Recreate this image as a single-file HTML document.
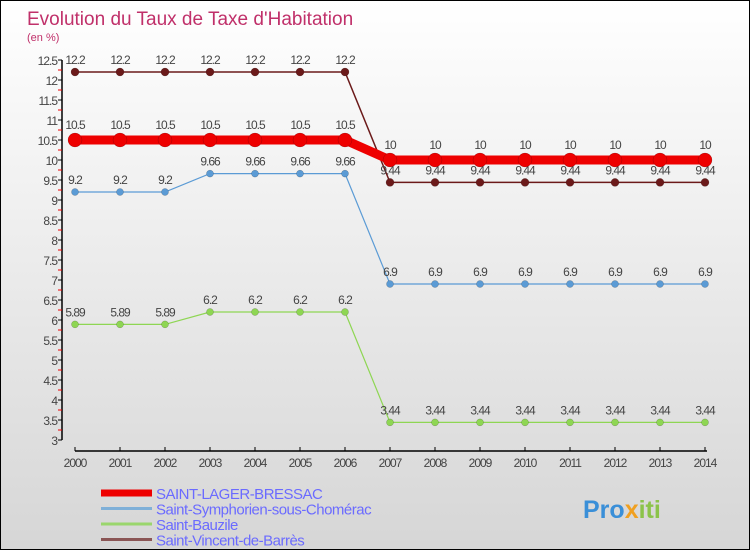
<!DOCTYPE html>
<html><head><meta charset="utf-8"><style>
body{margin:0}
#c{width:748px;height:548px;border:1px solid #000;background:linear-gradient(#fff,#d6d6d6);position:relative;overflow:hidden;font-family:"Liberation Sans","DejaVu Sans",sans-serif}
svg text{font-family:"Liberation Sans","DejaVu Sans",sans-serif}
</style></head><body>
<div id="c">
<svg id="s" width="748" height="548">
<text x="26" y="24" font-size="19" fill="#c0306a">Evolution du Taux de Taxe d'Habitation</text>
<text x="26" y="40" font-size="11" fill="#c0306a">(en %)</text>
</svg>
</div>
<script>
const years=[2000,2001,2002,2003,2004,2005,2006,2007,2008,2009,2010,2011,2012,2013,2014];
const yTicks=[3,3.5,4,4.5,5,5.5,6,6.5,7,7.5,8,8.5,9,9.5,10,10.5,11,11.5,12,12.5];
const seriesNames=["SAINT-LAGER-BRESSAC","Saint-Symphorien-sous-Chomérac","Saint-Bauzile","Saint-Vincent-de-Barrès"];
const sLager=[10.5,10.5,10.5,10.5,10.5,10.5,10.5,10,10,10,10,10,10,10,10];
const sSymph=[9.2,9.2,9.2,9.66,9.66,9.66,9.66,6.9,6.9,6.9,6.9,6.9,6.9,6.9,6.9];
const sBauz=[5.89,5.89,5.89,6.2,6.2,6.2,6.2,3.44,3.44,3.44,3.44,3.44,3.44,3.44,3.44];
const sVinc=[12.2,12.2,12.2,12.2,12.2,12.2,12.2,9.44,9.44,9.44,9.44,9.44,9.44,9.44,9.44];
const svg=document.getElementById('s');const NS='http://www.w3.org/2000/svg';
function X(i){return 74+i*45;}
function Y(v){return 159-(v-10)*40;}
function mk(t,a,p){const e=document.createElementNS(NS,t);for(const k in a)e.setAttribute(k,a[k]);(p||svg).appendChild(e);return e;}
let ya=mk('line',{x1:61,y1:Y(12.5),x2:61,y2:Y(3),stroke:'#000','stroke-width':1.5});


yTicks.forEach((v,k)=>{mk('line',{x1:57,y1:Y(v),x2:61,y2:Y(v),stroke:'#000'});
 if(k>0)mk('line',{x1:57,y1:Y(v)+10,x2:61,y2:Y(v)+10,stroke:'#e00'});
 let t=mk('text',{x:56,y:Y(v)+5,'font-size':12,'text-anchor':'end',fill:'#444','letter-spacing':'-1'});t.textContent=v;
 
 });
let xa=mk('line',{x1:74,y1:450,x2:706,y2:450,stroke:'#000','stroke-width':1.5});


years.forEach((y,i)=>{mk('line',{x1:X(i),y1:446,x2:X(i),y2:450,stroke:'#000'});
 let t=mk('text',{x:X(i),y:466,'font-size':12,'text-anchor':'middle',fill:'#444','letter-spacing':'-1'});t.textContent=y;
 
 });
const series=[[sVinc,'#6b1a1a',1.5,4,'series-saint-vincent'],[sSymph,'#5b9bd5',1.2,3.5,'series-saint-symphorien'],[sBauz,'#8ed653',1.2,3.5,'series-saint-bauzile'],[sLager,'#ee0000',9,7,'series-saint-lager']];
series.forEach(([d,c,w,r,n])=>{
 const g=mk('g',{});
 
 
 mk('polyline',{points:d.map((v,i)=>X(i)+','+Y(v)).join(' '),fill:'none',stroke:c,'stroke-width':w},g);
 d.forEach((v,i)=>{const p=mk('circle',{cx:X(i),cy:Y(v),r:r,fill:c,stroke:'rgba(0,0,0,0.3)','stroke-width':0.5},g);
  
  
  const t=mk('text',{x:X(i),y:Y(v)-(w>5?11:8),'font-size':12,'text-anchor':'middle',fill:'#444','letter-spacing':'-1'},g);t.textContent=v;
  
  });
});
const legC=['#ee0000','#7fb0d8','#9ad66d','#8a5555'],legW=[7,3,3,3];
seriesNames.forEach((n,i)=>{const y=492+i*15.5;
 const g=mk('g',{});
 
 
 mk('line',{x1:100,y1:y,x2:151,y2:y,stroke:legC[i],'stroke-width':legW[i]},g);
 const t=mk('text',{x:155,y:y+6,'font-size':15,fill:'#6b6bff','letter-spacing':'-0.5'},g);t.textContent=n;});
const lg=mk('text',{x:582,y:517,'font-size':25,'font-weight':'bold',fill:'#3a8fd8'});
lg.innerHTML='<tspan fill="#3a8fd8">Pro</tspan><tspan fill="#f0a020">x</tspan><tspan fill="#8bc34a">iti</tspan>';


</script>
</body></html>
